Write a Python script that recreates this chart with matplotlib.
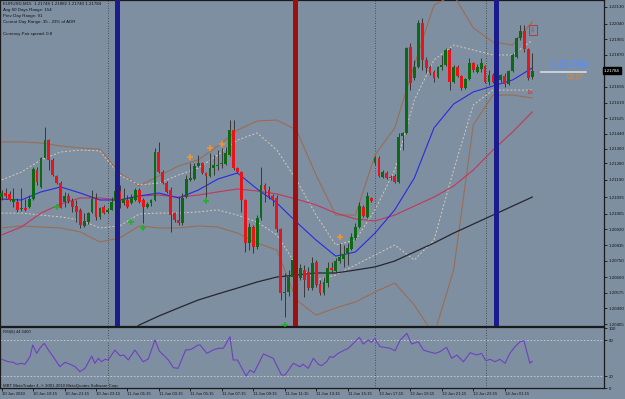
import matplotlib
matplotlib.use("Agg")
import matplotlib.pyplot as plt
import numpy as np
from matplotlib.patches import Rectangle

plt.rcParams['font.family'] = ['Liberation Sans', 'DejaVu Sans']

# ---------------- data ----------------
opens = [1.21096, 1.21118, 1.21113, 1.21069, 1.21069, 1.21031, 1.21036, 1.21042, 1.21085, 1.21243,
         1.21151, 1.21308, 1.21406, 1.21298, 1.21211, 1.21172, 1.21069, 1.21102, 1.21075, 1.21047,
         1.21026, 1.20939, 1.20960, 1.21015, 1.21085, 1.20988, 1.21042, 1.21015, 1.21026, 1.21075,
         1.21129, 1.21064, 1.21080, 1.21064, 1.21080, 1.21134, 1.21080, 1.21042, 1.21064, 1.21080,
         1.21341, 1.21232, 1.21172, 1.21134, 1.21009, 1.20971, 1.20955, 1.21096, 1.21189, 1.21194,
         1.21265, 1.21281, 1.21227, 1.21211, 1.21254, 1.21265, 1.21276, 1.21276, 1.21325, 1.21461,
         1.21254, 1.21232, 1.21080, 1.20846, 1.20933, 1.20824, 1.20982, 1.21162, 1.21134, 1.21102,
         1.21091, 1.20922, 1.20574, 1.20580, 1.20661, 1.20770, 1.20656, 1.20699, 1.20688, 1.20601,
         1.20743, 1.20623, 1.20574, 1.20628, 1.20710, 1.20694, 1.20748, 1.20759, 1.20792, 1.20813,
         1.20873, 1.20933, 1.21042, 1.20988, 1.21091, 1.21281, 1.21308, 1.21205, 1.21227, 1.21205,
         1.21211, 1.21178, 1.21428, 1.21445, 1.21912, 1.21744, 1.21804, 1.22043, 1.21841, 1.21804,
         1.21776, 1.21749, 1.21804, 1.21814, 1.21896, 1.21722, 1.21804, 1.21755, 1.21689, 1.21738,
         1.21825, 1.21776, 1.21793, 1.21809, 1.21722, 1.21760, 1.21733, 1.21733, 1.21755, 1.21711,
         1.21782, 1.21858, 1.21961, 1.21999, 1.21901, 1.21748]
highs = [1.21134, 1.21145, 1.21129, 1.21145, 1.21091, 1.21145, 1.21085, 1.21107, 1.21259, 1.21259,
         1.21314, 1.21477, 1.21412, 1.21308, 1.21216, 1.21183, 1.21124, 1.21118, 1.21091, 1.21080,
         1.21036, 1.21009, 1.21015, 1.21134, 1.21118, 1.21042, 1.21053, 1.21036, 1.21096, 1.21162,
         1.21162, 1.21145, 1.21107, 1.21113, 1.21145, 1.21145, 1.21091, 1.21069, 1.21085, 1.21363,
         1.21396, 1.21243, 1.21183, 1.21151, 1.21015, 1.21096, 1.21118, 1.21216, 1.21281, 1.21281,
         1.21325, 1.21287, 1.21232, 1.21336, 1.21325, 1.21352, 1.21363, 1.21368, 1.21515, 1.21515,
         1.21259, 1.21238, 1.21085, 1.20955, 1.20944, 1.20998, 1.21259, 1.21172, 1.21156, 1.21113,
         1.21107, 1.20928, 1.20683, 1.20699, 1.20770, 1.20781, 1.20732, 1.20726, 1.20716, 1.20770,
         1.20754, 1.20645, 1.20661, 1.20743, 1.20743, 1.20764, 1.20846, 1.20835, 1.20846, 1.20900,
         1.20955, 1.21069, 1.21053, 1.21124, 1.21096, 1.21319, 1.21319, 1.21243, 1.21238, 1.21216,
         1.21221, 1.21445, 1.21450, 1.21912, 1.21934, 1.21841, 1.22059, 1.22070, 1.21858, 1.21814,
         1.21787, 1.21809, 1.21869, 1.21907, 1.21907, 1.21814, 1.21814, 1.21760, 1.21744, 1.21852,
         1.21831, 1.21820, 1.21852, 1.21814, 1.21787, 1.21771, 1.21755, 1.21765, 1.21771, 1.21787,
         1.21880, 1.21967, 1.22032, 1.22032, 1.21907, 1.21882]
lows = [1.21080, 1.21091, 1.21075, 1.21042, 1.21015, 1.21020, 1.21020, 1.21036, 1.21080, 1.21162,
        1.21145, 1.21308, 1.21243, 1.21211, 1.21167, 1.21036, 1.21042, 1.21064, 1.21015, 1.20960,
        1.20928, 1.20933, 1.20949, 1.21009, 1.20971, 1.20977, 1.21004, 1.21009, 1.21026, 1.21069,
        1.21036, 1.21053, 1.21036, 1.21058, 1.21075, 1.21064, 1.20955, 1.21036, 1.21047, 1.21075,
        1.21227, 1.21167, 1.21118, 1.20906, 1.20960, 1.20944, 1.20944, 1.21091, 1.21183, 1.21189,
        1.21259, 1.21221, 1.21096, 1.21205, 1.21216, 1.21243, 1.21254, 1.21270, 1.21319, 1.21243,
        1.21227, 1.21015, 1.20797, 1.20808, 1.20792, 1.20813, 1.20971, 1.21069, 1.21085, 1.21047,
        1.20906, 1.20536, 1.20444, 1.20558, 1.20645, 1.20699, 1.20645, 1.20552, 1.20590, 1.20590,
        1.20607, 1.20563, 1.20563, 1.20607, 1.20683, 1.20688, 1.20737, 1.20716, 1.20726, 1.20808,
        1.20862, 1.20928, 1.20988, 1.20982, 1.21069, 1.21270, 1.21205, 1.21200, 1.21194, 1.21189,
        1.21172, 1.21172, 1.21352, 1.21439, 1.21678, 1.21733, 1.21798, 1.21787, 1.21771, 1.21760,
        1.21722, 1.21744, 1.21787, 1.21809, 1.21678, 1.21716, 1.21749, 1.21678, 1.21684, 1.21733,
        1.21776, 1.21771, 1.21776, 1.21716, 1.21706, 1.21716, 1.21722, 1.21722, 1.21695, 1.21706,
        1.21776, 1.21852, 1.21950, 1.21885, 1.21733, 1.21740]
closes = [1.21118, 1.21102, 1.21080, 1.21085, 1.21026, 1.21036, 1.21026, 1.21085, 1.21249, 1.21178,
          1.21308, 1.21406, 1.21298, 1.21216, 1.21172, 1.21036, 1.21102, 1.21075, 1.21042, 1.21015,
          1.20944, 1.20966, 1.21009, 1.21085, 1.20988, 1.21036, 1.21009, 1.21026, 1.21069, 1.21129,
          1.21080, 1.21085, 1.21042, 1.21091, 1.21134, 1.21069, 1.21042, 1.21058, 1.21080, 1.21341,
          1.21232, 1.21172, 1.21124, 1.20998, 1.20971, 1.20955, 1.21091, 1.21194, 1.21200, 1.21265,
          1.21281, 1.21227, 1.21211, 1.21254, 1.21270, 1.21270, 1.21281, 1.21336, 1.21461, 1.21254,
          1.21232, 1.21080, 1.20846, 1.20933, 1.20824, 1.20982, 1.21162, 1.21134, 1.21102, 1.21080,
          1.20922, 1.20574, 1.20580, 1.20661, 1.20754, 1.20710, 1.20710, 1.20645, 1.20601, 1.20737,
          1.20618, 1.20574, 1.20634, 1.20710, 1.20699, 1.20748, 1.20770, 1.20786, 1.20819, 1.20879,
          1.20933, 1.21047, 1.20993, 1.21102, 1.21075, 1.21308, 1.21211, 1.21232, 1.21200, 1.21200,
          1.21178, 1.21423, 1.21445, 1.21907, 1.21716, 1.21804, 1.22043, 1.21841, 1.21798, 1.21771,
          1.21744, 1.21804, 1.21814, 1.21896, 1.21722, 1.21804, 1.21755, 1.21689, 1.21738, 1.21825,
          1.21787, 1.21804, 1.21825, 1.21722, 1.21760, 1.21722, 1.21749, 1.21760, 1.21711, 1.21782,
          1.21869, 1.21961, 1.21999, 1.21901, 1.21744, 1.21784]

# indicator lines (bar index -> price)
ind_bars = [0, 5, 10, 15, 20, 25, 30, 35, 40, 45, 50, 55, 60, 65, 70, 75, 80, 85, 90, 95,
            100, 105, 110, 115, 120, 125, 130, 135]
ma_fast = [1.21085, 1.21080, 1.21124, 1.21151, 1.21118, 1.21080, 1.21080, 1.21102, 1.21118, 1.21091,
           1.21134, 1.21194, 1.21227, 1.21140, 1.21064, 1.20960, 1.20862, 1.20775, 1.20797, 1.20900,
           1.21026, 1.21200, 1.21472, 1.21602, 1.21668, 1.21700, 1.21733, 1.21798]
ma_mid = [1.20890, 1.20933, 1.21009, 1.21058, 1.21091, 1.21091, 1.21080, 1.21102, 1.21107, 1.21096,
          1.21107, 1.21124, 1.21140, 1.21129, 1.21113, 1.21085, 1.21053, 1.21009, 1.20977, 1.20966,
          1.20998, 1.21047, 1.21096, 1.21156, 1.21243, 1.21352, 1.21450, 1.21559]
band_up = [1.21396, 1.21396, 1.21390, 1.21374, 1.21363, 1.21357, 1.21227, 1.21156, 1.21211, 1.21265,
           1.21298, 1.21374, 1.21461, 1.21510, 1.21515, 1.21461, 1.21216, 1.20998, 1.20998, 1.21325,
           1.21472, 1.21814, 1.22141, 1.22195, 1.22016, 1.21940, 1.21923, 1.22048]
band_lo = [1.20928, 1.20939, 1.20933, 1.20928, 1.20906, 1.20852, 1.20873, 1.20939, 1.20928, 1.20928,
           1.20939, 1.20933, 1.20900, 1.20846, 1.20808, 1.20536, 1.20454, 1.20493, 1.20525, 1.20580,
           1.20628, 1.20509, 1.20346, 1.20699, 1.21488, 1.21651, 1.21651, 1.21635]
inner_up = [1.21189, 1.21232, 1.21298, 1.21341, 1.21352, 1.21347, 1.21216, 1.21162, 1.21172, 1.21216,
            1.21254, 1.21325, 1.21406, 1.21445, 1.21352, 1.21189, 1.20998, 1.20835, 1.20862, 1.21026,
            1.21243, 1.21624, 1.21842, 1.21923, 1.21896, 1.21869, 1.21869, 1.21950]
inner_lo = [1.21009, 1.21009, 1.20998, 1.20988, 1.20971, 1.20928, 1.20939, 1.21004, 1.21009, 1.21009,
            1.21015, 1.21026, 1.20998, 1.20960, 1.20890, 1.20726, 1.20645, 1.20672, 1.20726, 1.20781,
            1.20835, 1.20754, 1.20862, 1.21243, 1.21597, 1.21678, 1.21678, 1.21678]
slow_bars = [30, 35, 40, 45, 50, 55, 60, 65, 70, 75, 80, 85, 90, 95, 100, 105, 110, 115, 120, 125, 130, 135]
ma_slow = [1.20318, 1.20400, 1.20449, 1.20493, 1.20536, 1.20569, 1.20601, 1.20634, 1.20661, 1.20672,
           1.20683, 1.20683, 1.20699, 1.20716, 1.20748, 1.20797, 1.20846, 1.20900, 1.20949, 1.20998,
           1.21047, 1.21096]

up_cross_bars = [48, 53, 56, 86]
up_cross_px = [1.21314, 1.21363, 1.21385, 1.20879]
dn_cross_bars = [14, 33, 36, 52, 72]
dn_cross_px = [1.21042, 1.20960, 1.20928, 1.21075, 1.20400]

session_blue = [29.3, 125.8]
session_red = [74.6]
day_breaks = [27.05, 95.0, 123.2]

rsi_pos = [0.0, 1.7, 3.0, 3.8, 5.1, 5.9, 7.2, 7.9, 8.9, 9.7, 10.8, 11.9, 13.1, 14.8, 16.1, 17.4,
           18.7, 19.9, 21.2, 22.9, 23.7, 24.6, 25.4, 26.3, 27.1, 28.8, 30.1, 31.1, 32.2, 33.9, 36.0,
           37.3, 39.0, 40.1, 41.6, 42.4, 43.7, 44.9, 46.8, 48.2, 50.0, 50.5, 52.2, 53.8, 55.1, 56.4,
           58.1, 58.9, 60.0, 62.2, 63.2, 64.2, 66.6, 69.1, 71.2, 72.1, 74.2, 75.9, 76.7, 78.0, 79.3,
           80.6, 81.4, 82.7, 83.5, 84.4, 85.6, 86.9, 88.2, 89.5, 91.0, 92.0, 93.3, 94.1, 95.0, 95.4,
           96.3, 97.5, 98.8, 100.1, 101.4, 103.1, 104.3, 106.0, 107.3, 108.6, 110.3, 111.5, 113.2,
           114.5, 115.8, 117.5, 119.2, 120.9, 122.1, 123.2, 124.3, 125.5, 126.8, 128.1, 129.3, 130.6,
           131.9, 132.9, 134.4, 135.0]
rsi_val = [47.8, 43.8, 42.8, 39.5, 41.2, 39.5, 52.2, 71.7, 57.8, 66.2, 74.5, 63.3, 52.2, 35.5, 42.8,
           39.5, 35.5, 27.2, 32.8, 53.3, 41.2, 49.5, 43.8, 47.8, 46.7, 63.3, 53.8, 55.0, 46.7, 63.3,
           43.8, 48.3, 80.0, 61.7, 52.2, 46.7, 33.8, 32.8, 63.3, 64.5, 71.7, 71.7, 57.8, 63.3, 66.2,
           66.2, 85.5, 46.7, 46.7, 20.0, 30.0, 25.5, 56.7, 49.5, 21.7, 21.7, 41.2, 35.5, 39.5, 32.8,
           49.5, 39.5, 37.2, 43.8, 52.2, 51.2, 57.8, 62.2, 66.2, 74.5, 84.5, 73.3, 80.0, 76.2, 82.8,
           77.2, 68.8, 67.8, 66.2, 62.2, 80.0, 91.2, 73.3, 77.2, 63.3, 60.5, 57.8, 60.5, 67.8, 49.5,
           55.0, 43.8, 58.8, 55.0, 57.8, 45.5, 47.8, 43.8, 47.8, 41.2, 57.8, 68.8, 77.2, 78.8, 41.2,
           44.54]

price_ticks = [1.22130, 1.22040, 1.21955, 1.21870, 1.21695, 1.21610, 1.21525, 1.21440, 1.21360,
               1.21280, 1.21190, 1.21095, 1.21005, 1.20920, 1.20835, 1.20750, 1.20660, 1.20575,
               1.20490, 1.20405]
time_bars = [0, 8, 16, 24, 32, 40, 48, 56, 64, 72, 80, 88, 96, 104, 112, 120, 128]
time_labels = ["10 Jun 2010", "10 Jun 19:15", "10 Jun 21:15", "10 Jun 23:15", "11 Jun 01:15",
               "11 Jun 03:15", "11 Jun 05:15", "11 Jun 07:15", "11 Jun 09:15", "11 Jun 11:15",
               "11 Jun 13:15", "11 Jun 15:15", "13 Jun 17:15", "13 Jun 19:15", "13 Jun 21:15",
               "13 Jun 23:15", "14 Jun 01:15"]
rsi_ticks = [100, 80, 20, 0]
last_price = 1.21784

# ---------------- figure ----------------
BG = '#7e8fa2'
W, H = 625, 399
fig = plt.figure(figsize=(6.25, 3.99), dpi=100, facecolor=BG)
ax = fig.add_axes([0, 1 - 326 / H, 604 / W, 326 / H])
ax2 = fig.add_axes([0, 1 - 388 / H, 604 / W, 61 / H])
for a in (ax, ax2):
    a.set_facecolor(BG)
    a.set_xlim(-0.43, 153.26)
    for s in a.spines.values():
        s.set_color('#1a1a1a')
        s.set_linewidth(0.9)
ax.set_ylim(1.203946, 1.22168)
ax2.set_ylim(0, 101.7)

# indicator bands / MAs
ax.plot(ind_bars, band_up, color='#9a6d52', lw=0.8, zorder=3)
ax.plot(ind_bars, band_lo, color='#9a6d52', lw=0.8, zorder=3)
ax.plot(ind_bars, inner_up, color='#d9cbb4', lw=0.7, ls=(0, (2, 2)), zorder=3)
ax.plot(ind_bars, inner_lo, color='#d9cbb4', lw=0.7, ls=(0, (2, 2)), zorder=3)
ax.plot(slow_bars, ma_slow, color='#262630', lw=0.9, zorder=3)
ax.plot(ind_bars, ma_mid, color='#c4365a', lw=0.8, zorder=3)
ax.plot(ind_bars, ma_fast, color='#2a2ae0', lw=0.8, zorder=3)

# candles
o = np.array(opens); h = np.array(highs); l = np.array(lows); c = np.array(closes)
idx = np.arange(len(c))
up = c >= o
ax.vlines(idx, l, h, color='#383838', lw=0.7, zorder=4)
bottom = np.minimum(o, c)
height = np.maximum(np.abs(c - o), 0.00006)
ax.bar(idx, height, bottom=bottom, width=0.72,
       color=np.where(up, '#0d6a14', '#e8141c'), edgecolor='none', zorder=5)

# crosses
ax.plot(up_cross_bars, up_cross_px, '+', color='#f0962a', ms=4, mew=1.2, zorder=6)
ax.plot(dn_cross_bars, dn_cross_px, '+', color='#22b02a', ms=4, mew=1.2, zorder=6)

# vertical markers
for b in session_blue:
    ax.axvline(b, color='#1b1b8c', lw=3.6, zorder=7)
for b in session_red:
    ax.axvline(b, color='#9e0f10', lw=3.6, zorder=7)
for b in day_breaks:
    ax.axvline(b, color='#3a3a3a', lw=0.6, ls=(0, (1, 2)), zorder=2)
    ax2.axvline(b, color='#3a3a3a', lw=0.6, ls=(0, (1, 2)), zorder=2)

# price axis
ax.yaxis.tick_right()
ax.set_yticks(price_ticks)
ax.set_yticklabels([f"{v:.5f}" for v in price_ticks])
ax.tick_params(axis='y', direction='out', length=2, width=0.6, pad=1.5,
               labelsize=3.2, colors='#141414')
ax.set_xticks([])
ax.text(1.0, last_price, f"{last_price:.5f}", transform=ax.get_yaxis_transform(),
        fontsize=3.2, color='white', va='center', ha='left',
        bbox=dict(boxstyle='square,pad=0.25', fc='black', ec='black'), zorder=10, clip_on=False)

# RSI panel
ax2.plot(rsi_pos, rsi_val, color='#7040c0', lw=0.8, zorder=4)
for lvl in (80, 20):
    ax2.axhline(lvl, color='#d0d0d0', lw=0.6, ls=(0, (2, 2)), zorder=2)
ax2.yaxis.tick_right()
ax2.set_yticks(rsi_ticks)
ax2.set_yticklabels([str(v) for v in rsi_ticks])
ax2.tick_params(axis='y', direction='out', length=2, width=0.6, pad=1.5,
                labelsize=3.2, colors='#141414')
ax2.set_xticks(time_bars)
ax2.set_xticklabels(time_labels, ha='left')
ax2.tick_params(axis='x', direction='out', length=2, width=0.6, pad=1,
                labelsize=3.1, colors='#141414')


def px(x, y):
    return x / W, 1 - y / H

# header texts
hdr = ["EURUSD,M15  1.21748 1.21882 1.21740 1.21784", "Avg 60 Days Range: 154",
       "Prev Day Range: 91", "Current Day Range: 35 - 23% of ADR"]
for i, t in enumerate(hdr):
    fig.text(*px(3, 4 + 6 * i), t, fontsize=3.2, color='#111111', va='center', ha='left')
fig.text(*px(3, 33.5), "Currency Pair spread: 0.8", fontsize=3.2, color='#111111', va='center')
fig.text(*px(3, 332), f"RSI(8) {rsi_val[-1]:.4f}", fontsize=3.0, color='#111111', va='center')
fig.text(*px(3, 385.5), "MBT MetaTrader 4, \u00a9 2001-2010 MetaQuotes Software Corp.",
         fontsize=3.1, color='#111111', va='center')

# current price overlay
fig.text(*px(549, 65), f"{last_price:.5f}", fontsize=7.8, color='#5d8ef2',
         fontweight='bold', va='center', ha='left', zorder=20)
fig.text(*px(567, 77.7), "02:07", fontsize=5.0, color='#e08a30', va='center', ha='left', zorder=20)
fig.add_artist(plt.Line2D([541 / W, 586 / W], [1 - 71.7 / H, 1 - 71.7 / H],
                          color='#d6dce4', lw=1.2, transform=fig.transFigure))
fig.add_artist(Rectangle(px(529, 35), 8 / W, 10 / H, transform=fig.transFigure,
                         fill=False, ec='#c83434', lw=0.7))
fig.text(*px(533, 30), "\u21e9", fontsize=4.5, color='#c83434', va='center', ha='center')
fig.text(*px(530, 92), "16", fontsize=4.2, color='#c83434', va='center', ha='center')

fig.savefig("out.png", dpi=100, facecolor=BG)
